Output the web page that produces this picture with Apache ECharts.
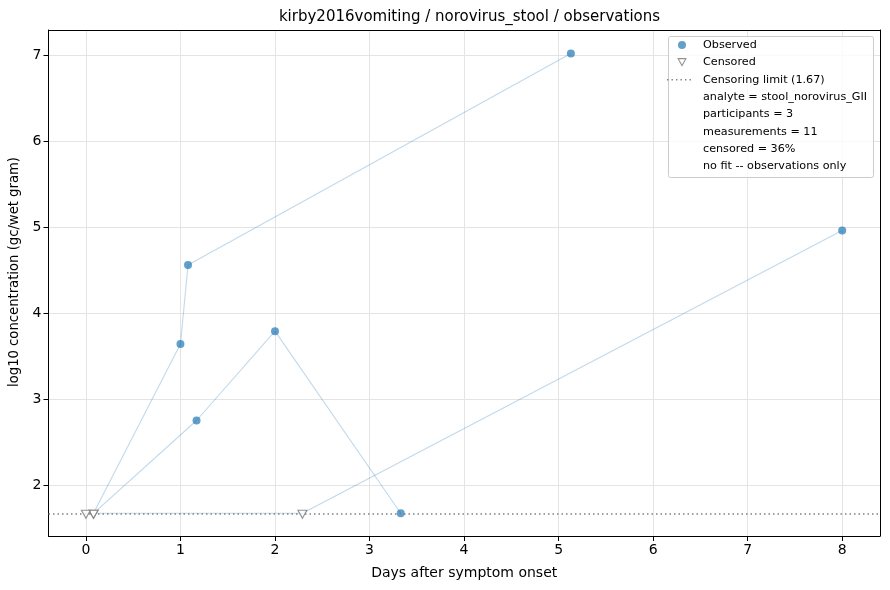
<!DOCTYPE html>
<html>
<head>
<meta charset="utf-8">
<script src="https://cdn.jsdelivr.net/npm/echarts@6/dist/echarts.min.js"></script>
<style>html,body{margin:0;padding:0;background:#fff}#c{width:890px;height:590px}</style>
</head>
<body>
<div id="c"></div>
<script>
const titleText = 'kirby2016vomiting / norovirus_stool / observations';
const xTicks = [0, 1, 2, 3, 4, 5, 6, 7, 8];
const yTicks = [2, 3, 4, 5, 6, 7];
const censorLimit = 1.67;
// participant trajectories: day, log10 conc, censored flag
const p1Days = [0.08, 1.0, 1.08, 5.13];
const p1Vals = [1.67, 3.64, 4.56, 7.02];
const p1Cens = [1, 0, 0, 0];
const p2Days = [0.08, 1.17, 2.0, 3.33];
const p2Vals = [1.67, 2.75, 3.79, 1.67];
const p2Cens = [1, 0, 0, 0];
const p3Days = [0.0, 2.29, 8.0];
const p3Vals = [1.67, 1.67, 4.96];
const p3Cens = [1, 1, 0];
const infoLines = [
  'analyte = stool_norovirus_GII',
  'participants = 3',
  'measurements = 11',
  'censored = 36%',
  'no fit -- observations only'
];

const parts = [[p1Days, p1Vals, p1Cens], [p2Days, p2Vals, p2Cens], [p3Days, p3Vals, p3Cens]];
const observed = [], censored = [];
parts.forEach(([d, v, c]) => d.forEach((t, i) => (c[i] ? censored : observed).push([t, v[i]])));

const font = 'DejaVu Sans';
const blue = 'rgba(31,119,180,0.88)';
const chart = echarts.init(document.getElementById('c'), null, {renderer: 'canvas'});

const lineSeries = parts.map(([d, v], k) => ({
  type: 'line', name: 'p' + k, data: d.map((t, i) => [t, v[i]]),
  symbol: 'none', silent: true, z: 1,
  lineStyle: {color: 'rgba(31,119,180,0.28)', width: 1.1}
}));

// legend icons (32x12 box, corner specks fix the bounding box)
const box = 'M0,0h0.01v0.01h-0.01z M32,12h-0.01v-0.01h0.01z ';
const iconCircle = 'path://' + box + 'M12,6a4,4 0 1,0 8,0a4,4 0 1,0 -8,0z';
const iconTri = 'path://' + box + 'M11.2,1.8L20.8,1.8L16,10.4Z M13,2.9L16,8.3L19,2.9Z';
let dots = '';
for (let x = 1; x < 27; x += 4.5) dots += 'M' + x + ',5.4h1.4v1.4h-1.4z ';
const iconDots = 'path://' + box + dots;

const legTop = 36, legLeft = 668, rowH = 17.25;
const graphics = [{
  type: 'rect', shape: {x: legLeft + 0.5, y: legTop + 0.5, width: 205, height: 141, r: 2},
  style: {fill: 'rgba(255,255,255,0.8)', stroke: '#cccccc', lineWidth: 1}, z: 10
}];
infoLines.forEach((s, i) => graphics.push({
  type: 'text', x: 703, y: legTop + 9.5 + rowH * (i + 3), z: 11,
  style: {text: s, font: '11.2px "' + font + '"', fill: '#000', verticalAlign: 'middle'}
}));

const plainAxis = {
  type: 'value', axisLine: {show: true, onZero: false, lineStyle: {color: '#000', width: 1}},
  axisTick: {show: false}, axisLabel: {show: false}, splitLine: {show: false}
};

chart.setOption({
  animation: false,
  textStyle: {fontFamily: font},
  title: {text: titleText, left: 464.5, textAlign: 'center', top: 5,
    textStyle: {fontFamily: font, fontSize: 15, fontWeight: 'normal', color: '#000'}},
  grid: {left: 48.5, right: 10, top: 30, bottom: 54, containLabel: false, outerBoundsMode: 'none'},
  legend: {
    orient: 'vertical', left: 666, top: 39, padding: 0, itemGap: 5.3, itemWidth: 32, itemHeight: 12,
    textStyle: {fontFamily: font, fontSize: 11.2, color: '#000', lineHeight: 12}, z: 12,
    data: [
      {name: 'Observed', icon: iconCircle, itemStyle: {color: blue, borderWidth: 0}},
      {name: 'Censored', icon: iconTri, itemStyle: {color: '#777777', borderWidth: 0}},
      {name: 'Censoring limit (1.67)', icon: iconDots, itemStyle: {color: '#808080', borderWidth: 0}}
    ]
  },
  xAxis: [{
    type: 'value', min: -0.396, max: 8.4,
    name: 'Days after symptom onset', nameLocation: 'middle', nameGap: 30,
    nameTextStyle: {fontFamily: font, fontSize: 14, color: '#000'},
    axisLine: {onZero: false, lineStyle: {color: '#000', width: 1}},
    axisTick: {show: true, length: 5, lineStyle: {color: '#000'}, customValues: xTicks},
    axisLabel: {customValues: xTicks, fontFamily: font, fontSize: 14, color: '#000', margin: 7},
    splitLine: {show: true, lineStyle: {color: '#e4e4e4', width: 1}}
  }, Object.assign({position: 'top', min: -0.396, max: 8.4}, plainAxis)],
  yAxis: [{
    type: 'value', min: 1.406, max: 7.294,
    name: 'log10 concentration (gc/wet gram)', nameLocation: 'middle', nameGap: 27,
    nameTextStyle: {fontFamily: font, fontSize: 13.2, color: '#000', padding: [0, 0, 0, 22]},
    axisLine: {show: true, onZero: false, lineStyle: {color: '#000', width: 1}},
    axisTick: {show: true, length: 5, lineStyle: {color: '#000'}, customValues: yTicks},
    axisLabel: {customValues: yTicks, fontFamily: font, fontSize: 14, color: '#000', margin: 7},
    splitLine: {show: true, lineStyle: {color: '#e4e4e4', width: 1}}
  }, Object.assign({position: 'right', min: 1.406, max: 7.294}, plainAxis)],
  graphic: graphics,
  series: [
    ...lineSeries,
    {
      type: 'line', name: 'Censoring limit (1.67)', data: [], symbol: 'none',
      lineStyle: {color: '#808080', type: [1.5, 3], width: 1.5},
      itemStyle: {color: '#808080'},
      markLine: {silent: true, symbol: 'none', label: {show: false},
        lineStyle: {color: '#808080', type: [1.5, 3], width: 1.5},
        data: [{yAxis: censorLimit}]}, z: 2
    },
    {
      type: 'scatter', name: 'Observed', data: observed, symbol: 'circle', symbolSize: 8,
      itemStyle: {color: blue}, z: 4
    },
    {
      type: 'scatter', name: 'Censored', data: censored, symbol: 'triangle', symbolRotate: 180,
      symbolSize: [9, 8], symbolOffset: [0, 1],
      itemStyle: {color: '#ffffff', borderColor: '#777777', borderWidth: 1.1}, z: 5
    }
  ]
});
</script>
</body>
</html>
